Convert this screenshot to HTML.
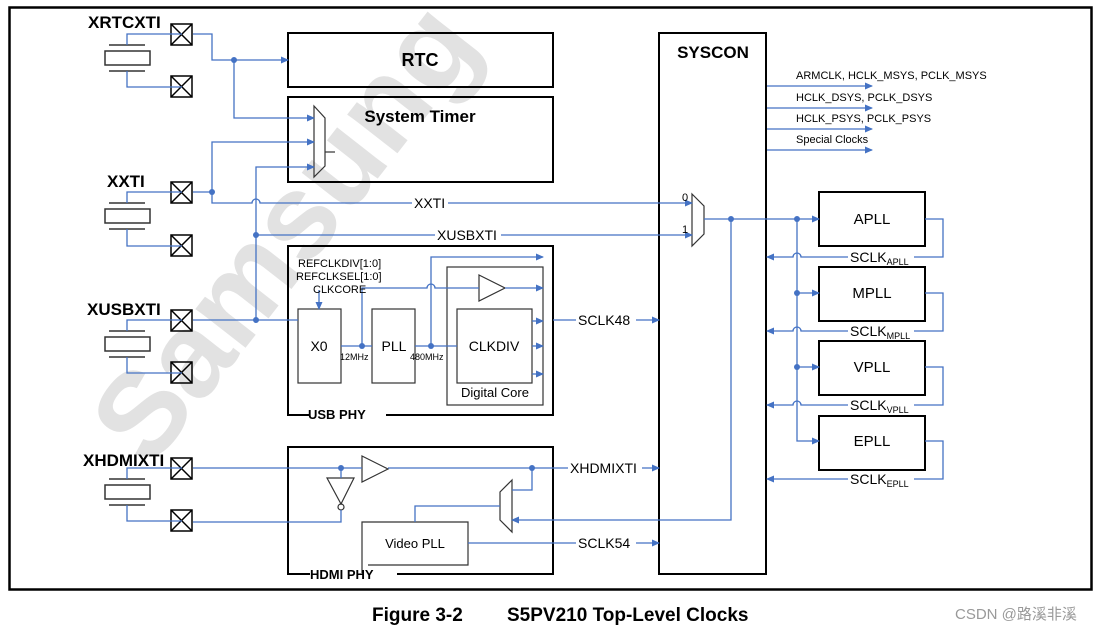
<!DOCTYPE html>
<html><head><meta charset="utf-8"><style>
html,body{margin:0;padding:0;background:#fff;}
svg{display:block;}
text{font-family:"Liberation Sans",Arial,sans-serif;}
</style></head><body>
<svg width="1106" height="632" viewBox="0 0 1106 632" xmlns="http://www.w3.org/2000/svg">
<defs>
<marker id="a" markerWidth="8" markerHeight="8" refX="7" refY="4" orient="auto" markerUnits="userSpaceOnUse">
<path d="M0,0.5 L8,4 L0,7.5 Z" fill="#4472c4"/></marker>
</defs>
<!-- watermark -->
<text x="0" y="0" transform="translate(150,470) rotate(-52)" font-size="120" font-weight="bold" fill="#e2e2e2">Samsung</text>

<rect x="9.5" y="7.5" width="1082" height="582" fill="none" stroke="#000" stroke-width="2.5"/>

<g fill="none" stroke="#000" stroke-width="2">
<rect x="288" y="33" width="265" height="54"/>
<rect x="288" y="97" width="265" height="85"/>
<rect x="659" y="33" width="107" height="541"/>
<path d="M310,415 H288 V246 H553 V415 H386"/>
<path d="M310,574 H288 V447 H553 V574 H397"/>
<rect x="819" y="192" width="106" height="54"/>
<rect x="819" y="267" width="106" height="54"/>
<rect x="819" y="341" width="106" height="54"/>
<rect x="819" y="416" width="106" height="54"/>
</g>
<g fill="none" stroke="#333" stroke-width="1.2">
<rect x="447" y="267" width="96" height="138"/>
<rect x="457" y="309" width="75" height="74"/>
<rect x="298" y="309" width="43" height="74"/>
<rect x="372" y="309" width="43" height="74"/>
<path d="M362,573 V522 H468 V565 H368"/>
<path d="M479,275 L505,288 L479,301 Z"/>
<path d="M362,456 L388,469 L362,482 Z"/>
<path d="M327,478 L354,478 L341,504 Z"/>
<circle cx="341" cy="507" r="3"/>
<path d="M314,106 L325,118 V166 L314,177 Z"/>
<path d="M325,152 H335"/>
<path d="M692,194 L704,206 V234 L692,246 Z"/>
<path d="M512,480 L500,492 V520 L512,532 Z"/>
</g>

<g fill="none" stroke="#000" stroke-width="1.5">
<rect x="171" y="24" width="21" height="21"/><path d="M171,24 L192,45 M192,24 L171,45"/>
<rect x="171" y="76" width="21" height="21"/><path d="M171,76 L192,97 M192,76 L171,97"/>
<rect x="171" y="182" width="21" height="21"/><path d="M171,182 L192,203 M192,182 L171,203"/>
<rect x="171" y="235" width="21" height="21"/><path d="M171,235 L192,256 M192,235 L171,256"/>
<rect x="171" y="310" width="21" height="21"/><path d="M171,310 L192,331 M192,310 L171,331"/>
<rect x="171" y="362" width="21" height="21"/><path d="M171,362 L192,383 M192,362 L171,383"/>
<rect x="171" y="458" width="21" height="21"/><path d="M171,458 L192,479 M192,458 L171,479"/>
<rect x="171" y="510" width="21" height="21"/><path d="M171,510 L192,531 M192,510 L171,531"/>
</g>
<g fill="none" stroke="#333" stroke-width="1.5">
<path d="M109,45 H145 M109,71 H145"/><rect x="105" y="51" width="45" height="14"/>
<path d="M109,203 H145 M109,229 H145"/><rect x="105" y="209" width="45" height="14"/>
<path d="M109,331 H145 M109,357 H145"/><rect x="105" y="337" width="45" height="14"/>
<path d="M109,479 H145 M109,505 H145"/><rect x="105" y="485" width="45" height="14"/>
</g>

<g fill="none" stroke="#4472c4" stroke-width="1.3">
<path d="M127,45 V34 H182 M127,71 V87 H182"/>
<path d="M127,203 V192 H182 M127,229 V246 H182"/>
<path d="M127,331 V320 H182 M127,357 V373 H182"/>
<path d="M127,479 V468 H182 M127,505 V521 H182"/>
<path d="M193,34 H212 V60 H288" marker-end="url(#a)"/>
<path d="M234,60 V118 H314" marker-end="url(#a)"/>
<path d="M193,192 H212 V142 H314" marker-end="url(#a)"/>
<path d="M212,192 V203 H252 A4,4 0 0 1 260,203 H692" marker-end="url(#a)"/>
<path d="M193,320 H298"/>
<path d="M256,320 V167 H314" marker-end="url(#a)"/>
<path d="M256,235 H692" marker-end="url(#a)"/>
<path d="M767,86 H872" marker-end="url(#a)"/>
<path d="M767,108 H872" marker-end="url(#a)"/>
<path d="M767,129 H872" marker-end="url(#a)"/>
<path d="M767,150 H872" marker-end="url(#a)"/>
<path d="M704,219 H819" marker-end="url(#a)"/>
<path d="M797,219 V441 H819" marker-end="url(#a)"/>
<path d="M797,293 H819" marker-end="url(#a)"/>
<path d="M797,367 H819" marker-end="url(#a)"/>
<path d="M731,219 V520 H512" marker-end="url(#a)"/>
<path d="M925,219 H943 V257 H801 A4,4 0 0 0 793,257 H767" marker-end="url(#a)"/>
<path d="M925,293 H943 V331 H801 A4,4 0 0 0 793,331 H767" marker-end="url(#a)"/>
<path d="M925,367 H943 V405 H801 A4,4 0 0 0 793,405 H767" marker-end="url(#a)"/>
<path d="M925,441 H943 V479 H767" marker-end="url(#a)"/>
<path d="M319,290 V309" marker-end="url(#a)"/>
<path d="M341,346 H372 M415,346 H457"/>
<path d="M362,346 V288 H427 A4,4 0 0 1 435,288 H479 M505,288 H543" marker-end="url(#a)"/>
<path d="M431,346 V257 H543" marker-end="url(#a)"/>
<path d="M532,321 H543" marker-end="url(#a)"/>
<path d="M532,346 H543" marker-end="url(#a)"/>
<path d="M532,374 H543" marker-end="url(#a)"/>
<path d="M553,320 H659" marker-end="url(#a)"/>
<path d="M193,468 H362 M388,468 H659" marker-end="url(#a)"/>
<path d="M341,468 V478 M341,510 V522 H193"/>
<path d="M532,468 V490 H512"/>
<path d="M415,522 V506 H500"/>
<path d="M468,543 H659" marker-end="url(#a)"/>
</g>
<g fill="#4472c4">
<circle cx="234" cy="60" r="3"/><circle cx="212" cy="192" r="3"/>
<circle cx="256" cy="320" r="3"/><circle cx="256" cy="235" r="3"/>
<circle cx="731" cy="219" r="3"/><circle cx="797" cy="219" r="3"/>
<circle cx="797" cy="293" r="3"/><circle cx="797" cy="367" r="3"/>
<circle cx="362" cy="346" r="3"/><circle cx="431" cy="346" r="3"/>
<circle cx="341" cy="468" r="3"/><circle cx="532" cy="468" r="3"/>
</g>

<g fill="#fff">
<rect x="412" y="196" width="36" height="14"/>
<rect x="435" y="228" width="66" height="14"/>
<rect x="576" y="313" width="60" height="14"/>
<rect x="568" y="461" width="74" height="14"/>
<rect x="576" y="536" width="60" height="14"/>
<rect x="848" y="250" width="66" height="15"/>
<rect x="848" y="324" width="66" height="15"/>
<rect x="848" y="398" width="66" height="15"/>
<rect x="848" y="472" width="66" height="15"/>
</g>

<g fill="#000">
<text x="88" y="28" font-size="17" font-weight="bold">XRTCXTI</text>
<text x="107" y="187" font-size="17" font-weight="bold">XXTI</text>
<text x="87" y="315" font-size="17" font-weight="bold">XUSBXTI</text>
<text x="83" y="466" font-size="17" font-weight="bold">XHDMIXTI</text>
<text x="420" y="66" font-size="18" font-weight="bold" text-anchor="middle">RTC</text>
<text x="420" y="122" font-size="17" font-weight="bold" text-anchor="middle">System Timer</text>
<text x="713" y="58" font-size="17" font-weight="bold" text-anchor="middle">SYSCON</text>
<text x="796" y="79" font-size="11">ARMCLK, HCLK_MSYS, PCLK_MSYS</text>
<text x="796" y="101" font-size="11">HCLK_DSYS, PCLK_DSYS</text>
<text x="796" y="122" font-size="11">HCLK_PSYS, PCLK_PSYS</text>
<text x="796" y="143" font-size="11">Special Clocks</text>
<text x="682" y="201" font-size="11">0</text>
<text x="682" y="233" font-size="11">1</text>
<text x="414" y="208" font-size="14">XXTI</text>
<text x="437" y="240" font-size="14">XUSBXTI</text>
<text x="872" y="224" font-size="15" text-anchor="middle">APLL</text>
<text x="872" y="298" font-size="15" text-anchor="middle">MPLL</text>
<text x="872" y="372" font-size="15" text-anchor="middle">VPLL</text>
<text x="872" y="446" font-size="15" text-anchor="middle">EPLL</text>
<text x="850" y="262" font-size="14">SCLK<tspan font-size="9" dy="3">APLL</tspan></text>
<text x="850" y="336" font-size="14">SCLK<tspan font-size="9" dy="3">MPLL</tspan></text>
<text x="850" y="410" font-size="14">SCLK<tspan font-size="9" dy="3">VPLL</tspan></text>
<text x="850" y="484" font-size="14">SCLK<tspan font-size="9" dy="3">EPLL</tspan></text>
<text x="298" y="267" font-size="11">REFCLKDIV[1:0]</text>
<text x="296" y="280" font-size="11">REFCLKSEL[1:0]</text>
<text x="313" y="293" font-size="11">CLKCORE</text>
<text x="319" y="351" font-size="14" text-anchor="middle">X0</text>
<text x="394" y="351" font-size="14" text-anchor="middle">PLL</text>
<text x="494" y="351" font-size="14" text-anchor="middle">CLKDIV</text>
<text x="495" y="397" font-size="13" text-anchor="middle">Digital Core</text>
<text x="340" y="360" font-size="9">12MHz</text>
<text x="410" y="360" font-size="9">480MHz</text>
<text x="308" y="419" font-size="13" font-weight="bold">USB PHY</text>
<text x="310" y="579" font-size="13" font-weight="bold">HDMI PHY</text>
<text x="415" y="548" font-size="13" text-anchor="middle">Video PLL</text>
<text x="578" y="325" font-size="14">SCLK48</text>
<text x="570" y="473" font-size="14">XHDMIXTI</text>
<text x="578" y="548" font-size="14">SCLK54</text>
<text x="372" y="621" font-size="19" font-weight="bold">Figure 3-2</text>
<text x="507" y="621" font-size="19" font-weight="bold">S5PV210 Top-Level Clocks</text>
</g>
<text x="955" y="619" font-size="15" fill="#999" font-family="'Liberation Sans','Noto Sans CJK SC',sans-serif">CSDN @路溪非溪</text>
</svg>
</body></html>
